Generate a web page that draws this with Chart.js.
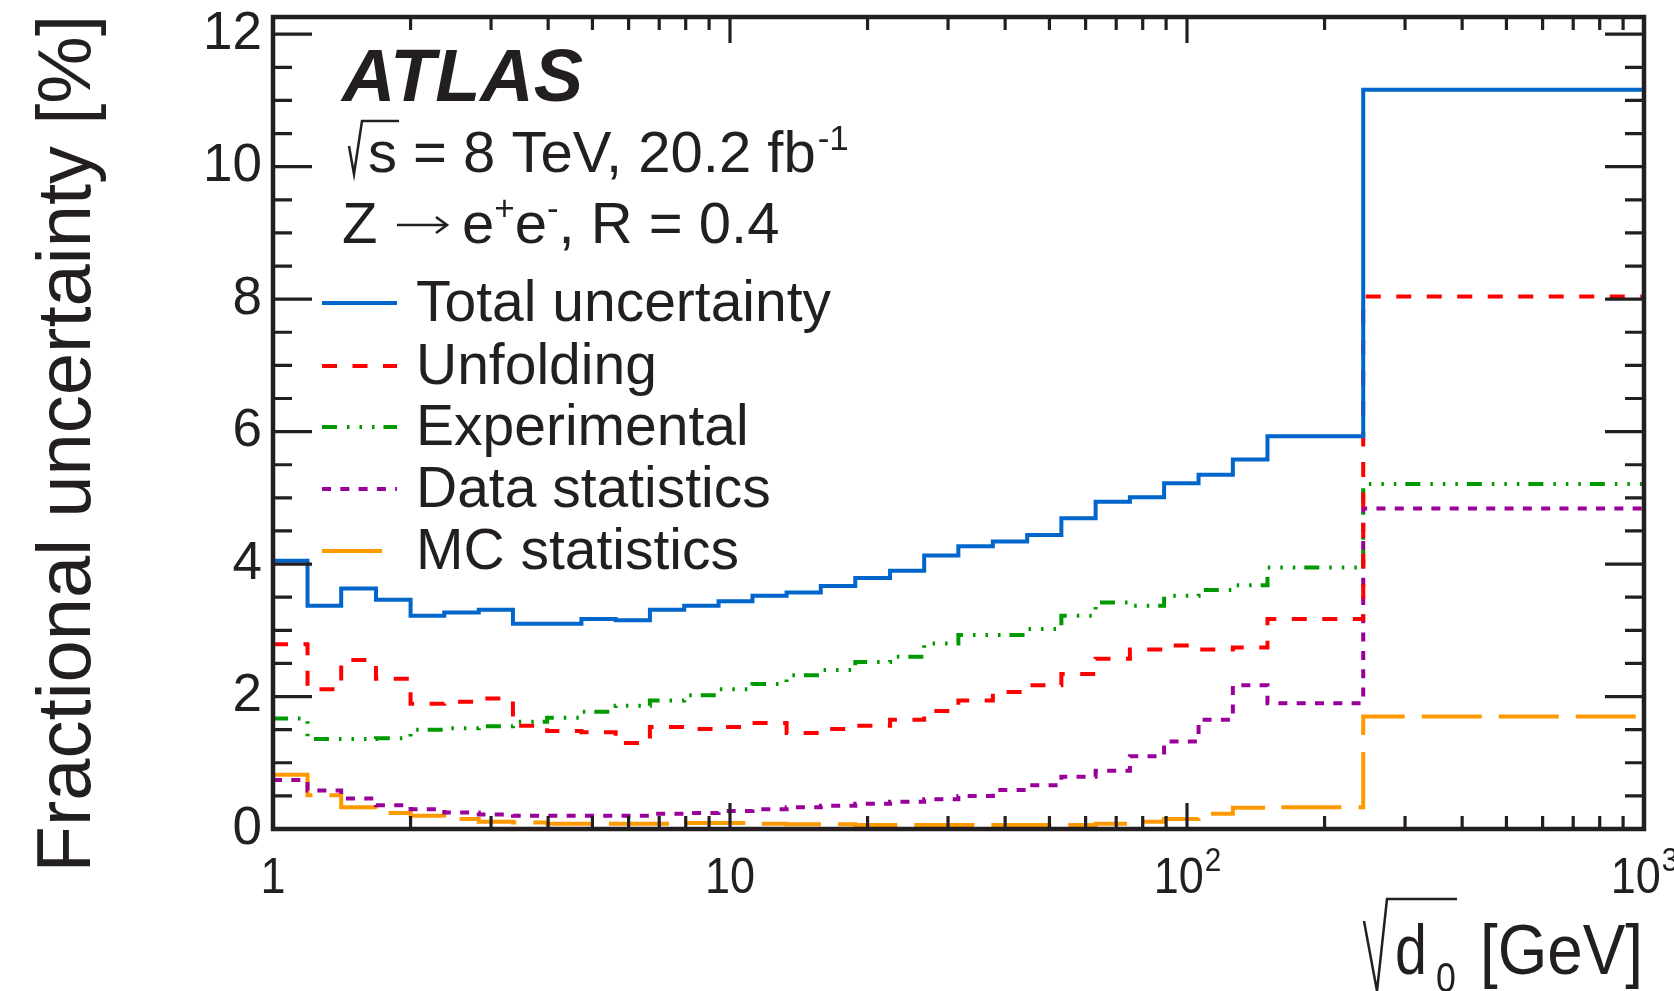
<!DOCTYPE html>
<html>
<head>
<meta charset="utf-8">
<script src="https://cdn.jsdelivr.net/npm/chart.js@4.4.1/dist/chart.umd.min.js"></script>
<style>
  html, body { margin: 0; padding: 0; background: #ffffff; overflow: hidden; }
  canvas { display: block; }
</style>
</head>
<body>
<canvas id="chart" width="1674" height="991"></canvas>
<script>
// Bin edges of sqrt(d0) [GeV] (31 bins)
const binEdges = [1, 1.19, 1.41, 1.68, 2.0, 2.37, 2.82, 3.35, 3.98, 4.73, 5.62, 6.68, 7.94, 9.44,
  11.2, 13.3, 15.8, 18.8, 22.4, 26.6, 31.6, 37.6, 44.7, 53.1, 63.1, 75.0, 89.1, 106, 126, 150, 243, 1000];

// Fractional uncertainties [%] per bin
const totalUnc = [4.05, 3.37, 3.63, 3.46, 3.22, 3.27, 3.31, 3.10, 3.10, 3.17, 3.15, 3.31, 3.37, 3.44, 3.52,
  3.57, 3.67, 3.79, 3.90, 4.13, 4.27, 4.34, 4.44, 4.69, 4.94, 5.01, 5.22, 5.35, 5.58, 5.93, 11.16];
const unfoldingUnc = [2.79, 2.11, 2.55, 2.27, 1.89, 1.92, 1.97, 1.56, 1.48, 1.46, 1.30, 1.54, 1.51, 1.54, 1.60,
  1.45, 1.51, 1.56, 1.65, 1.78, 1.94, 2.07, 2.17, 2.34, 2.57, 2.71, 2.77, 2.71, 2.74, 3.17, 8.04];
const experimentalUnc = [1.67, 1.36, 1.36, 1.37, 1.50, 1.52, 1.55, 1.62, 1.68, 1.77, 1.86, 1.94, 2.02, 2.11, 2.19,
  2.32, 2.40, 2.52, 2.60, 2.80, 2.93, 2.93, 3.02, 3.22, 3.42, 3.37, 3.52, 3.61, 3.68, 3.95, 5.21];
const dataStatUnc = [0.74, 0.58, 0.46, 0.36, 0.30, 0.25, 0.22, 0.20, 0.20, 0.20, 0.20, 0.23, 0.24, 0.27, 0.30,
  0.33, 0.35, 0.38, 0.41, 0.45, 0.50, 0.59, 0.66, 0.79, 0.88, 1.10, 1.32, 1.65, 2.17, 1.90, 4.84];
const mcStatUnc = [0.82, 0.51, 0.33, 0.24, 0.20, 0.15, 0.11, 0.10, 0.08, 0.08, 0.08, 0.08, 0.09, 0.09, 0.08,
  0.07, 0.07, 0.06, 0.06, 0.06, 0.06, 0.06, 0.06, 0.06, 0.08, 0.11, 0.15, 0.23, 0.32, 0.33, 1.70];

const seriesLabels = ['Total uncertainty', 'Unfolding', 'Experimental', 'Data statistics', 'MC statistics'];

// Axis ticks
const yTickValues = [0, 2, 4, 6, 8, 10, 12];
const xTickValues = [1, 10, 100, 1000];
const xTickBase = ['1', '10', '10', '10'];
const xTickExp = ['', '', '2', '3'];

const INK = '#231f20';
const FONT = "'Liberation Sans', Arial, Helvetica, sans-serif";

const styles = [
  { color: '#0066cc', dash: [] },
  { color: '#ff0000', dash: [15, 15.5] },
  { color: '#009900', dash: [15, 10, 2.5, 10, 2.5, 10, 2.5, 9] },
  { color: '#990099', dash: [9, 9.3] },
  { color: '#ff9900', dash: [60, 17] }
];
const seriesValues = [totalUnc, unfoldingUnc, experimentalUnc, dataStatUnc, mcStatUnc];

// Step outline: one point per left bin edge, plus the last upper edge
function histPoints(vals) {
  const pts = vals.map((v, i) => ({ x: binEdges[i], y: v }));
  pts.push({ x: binEdges[binEdges.length - 1], y: vals[vals.length - 1] });
  return pts;
}

const LINE_W = 4;

const datasets = seriesValues.map((vals, i) => ({
  label: seriesLabels[i],
  data: histPoints(vals),
  borderColor: styles[i].color,
  borderWidth: LINE_W,
  borderDash: styles[i].dash,
  borderCapStyle: 'butt',
  borderJoinStyle: 'miter',
  stepped: 'before',
  tension: 0,
  pointRadius: 0,
  fill: false
}));

function strokePath(ctx, pts, w) {
  ctx.save();
  ctx.strokeStyle = INK;
  ctx.lineWidth = w;
  ctx.lineJoin = 'miter';
  ctx.lineCap = 'butt';
  ctx.beginPath();
  ctx.moveTo(pts[0][0], pts[0][1]);
  for (let i = 1; i < pts.length; i++) ctx.lineTo(pts[i][0], pts[i][1]);
  ctx.stroke();
  ctx.restore();
}

// Text squeezed horizontally by factor sx, anchored at its left baseline point
function narrowText(ctx, txt, x, y, font, sx) {
  ctx.save();
  ctx.font = font;
  ctx.translate(x, y);
  ctx.scale(sx, 1);
  ctx.textAlign = 'left';
  ctx.textBaseline = 'alphabetic';
  ctx.fillText(txt, 0, 0);
  ctx.restore();
}

const decorPlugin = {
  id: 'decor',
  afterDatasetsDraw(chart) {
    const ctx = chart.ctx;
    const a = chart.chartArea;
    const xs = chart.scales.x, ys = chart.scales.y;

    ctx.save();
    ctx.strokeStyle = INK;
    ctx.fillStyle = INK;

    // tick marks on all four sides
    ctx.lineWidth = 3.2;
    ctx.beginPath();
    for (let v = 0; v <= ys.max + 1e-9; v += 0.5) {
      const y = ys.getPixelForValue(v);
      const len = (Math.abs(v % 2) < 1e-9) ? 39 : 19;
      ctx.moveTo(a.left, y); ctx.lineTo(a.left + len, y);
      ctx.moveTo(a.right, y); ctx.lineTo(a.right - len, y);
    }
    for (let d = 1; d < 1000; d *= 10) {
      for (let k = 1; k <= 9; k++) {
        const x = xs.getPixelForValue(k * d);
        const len = k === 1 ? 26 : 13;
        ctx.moveTo(x, a.bottom); ctx.lineTo(x, a.bottom - len);
        ctx.moveTo(x, a.top); ctx.lineTo(x, a.top + len);
      }
    }
    ctx.stroke();

    // frame
    ctx.lineWidth = 4.5;
    ctx.strokeRect(a.left, a.top, a.right - a.left, a.bottom - a.top);

    // x tick labels
    xTickValues.forEach((v, i) => {
      const px = xs.getPixelForValue(v);
      ctx.font = '50px ' + FONT;
      const wb = ctx.measureText(xTickBase[i]).width;
      ctx.font = '33px ' + FONT;
      const we = xTickExp[i] ? ctx.measureText(xTickExp[i]).width : 0;
      ctx.save();
      ctx.translate(px, 0);
      ctx.scale(0.9, 1);
      const x0 = -(wb + we) / 2;
      ctx.textAlign = 'left';
      ctx.textBaseline = 'alphabetic';
      ctx.font = '50px ' + FONT;
      ctx.fillText(xTickBase[i], x0, 893);
      if (xTickExp[i]) {
        ctx.font = '33px ' + FONT;
        ctx.fillText(xTickExp[i], x0 + wb + 1, 871);
      }
      ctx.restore();
    });

    // y axis title
    ctx.save();
    ctx.translate(90, 15);
    ctx.rotate(-Math.PI / 2);
    ctx.font = '76px ' + FONT;
    ctx.textAlign = 'right';
    ctx.textBaseline = 'alphabetic';
    ctx.fillText('Fractional uncertainty [%]', 0, 0);
    ctx.restore();

    // x axis title: sqrt(d_0) [GeV]
    ctx.font = '70px ' + FONT;
    const gw = ctx.measureText('[GeV]').width;
    narrowText(ctx, '[GeV]', 1480, 974, '70px ' + FONT, 163 / gw);
    narrowText(ctx, 'd', 1395, 974, '70px ' + FONT, 0.82);
    narrowText(ctx, '0', 1436, 992, '42px ' + FONT, 0.85);
    strokePath(ctx, [[1364, 921], [1377, 991], [1387, 899], [1457, 899]], 2.5);

    // experiment label
    ctx.textAlign = 'left';
    ctx.textBaseline = 'alphabetic';
    ctx.font = 'italic bold 74px ' + FONT;
    ctx.fillText('ATLAS', 342, 101);

    ctx.font = '58px ' + FONT;
    strokePath(ctx, [[349, 146], [354, 174], [362, 121], [399, 121]], 2.5);
    ctx.fillText('s = 8 TeV, 20.2 fb', 368, 172);
    const w2 = ctx.measureText('s = 8 TeV, 20.2 fb').width;
    ctx.font = '35px ' + FONT;
    ctx.fillText('-1', 368 + w2 + 2, 150);

    // Z -> e+e-, R = 0.4
    ctx.font = '58px ' + FONT;
    ctx.fillText('Z', 342, 243);
    strokePath(ctx, [[397, 225], [446, 225]], 2.6);
    strokePath(ctx, [[436, 217], [447, 225], [436, 233]], 2.6);
    let x = 462;
    const put = (txt, size, base) => {
      ctx.font = size + 'px ' + FONT;
      ctx.fillText(txt, x, base);
      x += ctx.measureText(txt).width;
    };
    put('e', 58, 243);
    put('+', 35, 220);
    put('e', 58, 243);
    put('-', 35, 220);
    put(', R = 0.4', 58, 243);

    // legend
    const rows = [303, 366, 427, 489, 551];
    rows.forEach((ry, i) => {
      ctx.save();
      ctx.strokeStyle = styles[i].color;
      ctx.lineWidth = LINE_W;
      ctx.lineCap = 'butt';
      ctx.setLineDash(styles[i].dash);
      ctx.beginPath();
      ctx.moveTo(322, ry);
      ctx.lineTo(397, ry);
      ctx.stroke();
      ctx.restore();
      ctx.font = '57px ' + FONT;
      ctx.fillStyle = INK;
      ctx.textAlign = 'left';
      ctx.fillText(seriesLabels[i], 416, ry + 18);
    });

    ctx.restore();
  }
};

new Chart(document.getElementById('chart').getContext('2d'), {
  type: 'line',
  data: { datasets },
  options: {
    responsive: false,
    animation: false,
    devicePixelRatio: 1,
    layout: { padding: { top: 17, right: 30, left: 0, bottom: 0 } },
    plugins: { legend: { display: false }, tooltip: { enabled: false } },
    scales: {
      x: {
        type: 'logarithmic',
        min: 1,
        max: 1000,
        grid: { display: false, drawTicks: false },
        border: { display: false },
        ticks: { display: false },
        afterFit(s) { s.height = 162; s.paddingLeft = 0; s.paddingRight = 0; }
      },
      y: {
        type: 'linear',
        min: 0,
        max: 12.26,
        grid: { display: false, drawTicks: false },
        border: { display: false },
        ticks: { color: INK, font: { family: FONT, size: 53 }, padding: 11 },
        afterBuildTicks(s) { s.ticks = yTickValues.map(v => ({ value: v })); },
        afterFit(s) { s.width = 273; s.paddingTop = 0; s.paddingBottom = 0; }
      }
    }
  },
  plugins: [decorPlugin]
});
</script>
</body>
</html>
